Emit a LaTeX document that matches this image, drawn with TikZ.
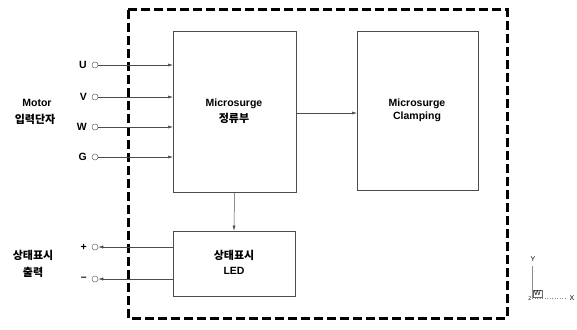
\documentclass[tikz,border=0pt]{standalone}
\usepackage{fontspec}
\setmainfont{Liberation Sans}
\newfontfamily\kr{Noto Sans CJK KR}
\usetikzlibrary{arrows.meta}
\begin{document}
\begin{tikzpicture}[x=1pt,y=-1pt,
  lbl/.style={font=\bfseries\fontsize{10.5}{12}\selectfont, inner sep=0pt, align=center},
  klbl/.style={font=\kr\bfseries\fontsize{11}{12}\selectfont, inner sep=0pt, align=center},
  blk/.style={draw=black!70, line width=0.6pt},
  term/.style={circle, draw=black!60, line width=0.5pt, minimum size=6pt, inner sep=0pt},
  conn/.style={draw=black!70, line width=0.5pt, -{Latex[length=5pt,width=3pt]}},
  frame/.style={draw=black, line width=3pt, dash pattern=on 9pt off 4pt}]
\useasboundingbox (0,0) rectangle (577,329);
\draw[frame] (128,10) rectangle (507,318);
% blocks
\node[blk, minimum width=123pt, minimum height=161pt, inner sep=0pt] (rect) at (234.5,111.5) {};
\node[blk, minimum width=121pt, minimum height=159pt, inner sep=0pt] (clamp) at (417.5,110.5) {};
\node[blk, minimum width=122pt, minimum height=65pt, inner sep=0pt] (led) at (234,263.5) {};
\node[lbl] (rectt) at (234,104) {Microsurge};
\node[klbl] (rectk) at (234,118) {정류부};
\node[lbl] (clampt) at (417,110) {Microsurge\\[1pt]Clamping};
\node[klbl] (ledk) at (234,255) {상태표시};
\node[lbl] (ledt) at (234,271) {LED};
% input terminals
\foreach \n/\y in {U/65,V/97,W/127,G/157}{
  \node[term] (t\n) at (95,\y) {};
  \node[lbl, anchor=east] (l\n) at (87,\y) {\n};
  \coordinate (e\n) at (173,\y);
  \draw[conn] (t\n) -- (e\n);
}
\node[lbl] (motor) at (37,103) {Motor};
\node[klbl] (motork) at (35,119) {입력단자};
% output terminals
\node[term] (tp) at (95,247) {};
\node[term] (tm) at (95,279) {};
\node[lbl, anchor=east] (lp) at (87,247) {+};
\node[lbl, anchor=east] (lm) at (87,279) {\textendash};
\coordinate (sp) at (173,247);
\coordinate (sm) at (173,279);
\draw[conn] (sp) -- (tp);
\draw[conn] (sm) -- (tm);
\node[klbl] (outk1) at (33,255) {상태표시};
\node[klbl] (outk2) at (33,272) {출력};
% internal connectors
\coordinate (r1) at (296,113);
\coordinate (c1) at (357,113);
\draw[conn] (r1) -- (c1);
\draw[conn] (rect.south) -- (led.north);
% axis icon
\coordinate (ax0) at (532,298);
\coordinate (axy) at (532,266);
\coordinate (axx) at (566,298);
\draw[black!45, line width=0.6pt] (ax0) -- (axy);
\draw[black!45, line width=0.5pt, dotted] (ax0) -- (axx);
\node[draw=black!60, line width=0.4pt, inner sep=1pt, font=\fontsize{7}{7}\selectfont, anchor=south west] (wbox) at (533,297) {W};
\node[font=\fontsize{7}{7}\selectfont, inner sep=0pt] (ylab) at (533,259) {Y};
\node[font=\fontsize{7}{7}\selectfont, inner sep=0pt] (xlab) at (572,298) {X};
\node[font=\fontsize{5}{5}\selectfont, inner sep=0pt] (zlab) at (530,299) {Z};
\end{tikzpicture}
\end{document}
